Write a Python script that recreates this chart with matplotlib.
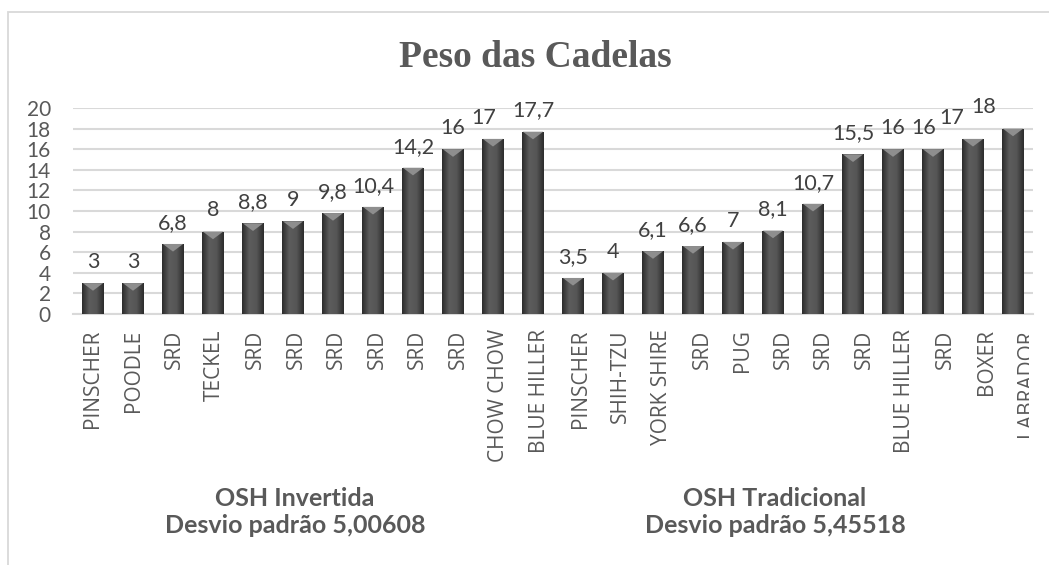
import matplotlib

matplotlib.use("Agg")

import matplotlib.pyplot as plt
import numpy as np
from matplotlib.colors import LinearSegmentedColormap
from matplotlib.patches import Rectangle
from matplotlib.path import Path
from matplotlib.transforms import ScaledTranslation


breeds = [
    "PINSCHER", "POODLE", "SRD", "TECKEL", "SRD", "SRD", "SRD", "SRD", "SRD", "SRD",
    "CHOW CHOW", "BLUE HILLER",
    "PINSCHER", "SHIH-TZU", "YORK SHIRE", "SRD", "PUG", "SRD", "SRD", "SRD",
    "BLUE HILLER", "SRD", "BOXER", "LABRADOR",
]
weights = [3, 3, 6.8, 8, 8.8, 9, 9.8, 10.4, 14.2, 16, 17, 17.7,
           3.5, 4, 6.1, 6.6, 7, 8.1, 10.7, 15.5, 16, 16, 17, 18]
groups = ["OSH Invertida\nDesvio padrão 5,00608", "OSH Tradicional\nDesvio padrão 5,45518"]
group_sizes = [12, 12]
y_ticks = list(range(0, 21, 2))

TEXT = "#595959"
GRID = "#d9d9d9"

W, H = 1049, 565
fig = plt.figure(figsize=(W / 100, H / 100), dpi=100)
fig.patch.set_facecolor("white")

# chart frame: only top and left edges show in the reference
fig.add_artist(Rectangle((8 / W, -0.1), 1.2, (H - 12) / H + 0.1, transform=fig.transFigure,
                         fill=False, edgecolor=GRID, lw=1.3))

ax = fig.add_axes([73 / W, 1 - 314 / H, 960 / W, 206 / H])
x = np.arange(len(weights))
bars = ax.bar(x, weights, width=0.53, color="#4a4a4a", zorder=2)

# horizontal shading across each bar
shade = LinearSegmentedColormap.from_list("shade", ["#2c2c2c", "#5c5c5c", "#565656", "#2c2c2c"])
grad = np.linspace(0, 1, 64).reshape(1, -1)
for b in bars:
    im = ax.imshow(grad, extent=[b.get_x(), b.get_x() + b.get_width(), 0, b.get_height()],
                   aspect="auto", cmap=shade, zorder=3)
    im.set_clip_path(b)

# bevelled top: flat triangle hanging from the top edge
bevel = Path([(-1, 0), (1, 0), (0, -0.75), (-1, 0)],
             [Path.MOVETO, Path.LINETO, Path.LINETO, Path.CLOSEPOLY])
ax.scatter(x, weights, marker=bevel, s=215, color="#8e8e8e", edgecolors="none", zorder=4)

# Excel pushed a few labels sideways to avoid collisions
nudge = {10: -7, 21: -7, 22: -15, 23: -21}
for xi, v in zip(x, weights):
    ax.annotate(f"{v:g}".replace(".", ","), (xi, v), xytext=(nudge.get(xi, 0), 8),
                textcoords="offset points", ha="center", va="bottom", fontsize=15.5,
                color="#404040", family="Lato")

ax.set_xlim(-0.5, len(weights) - 0.5)
ax.set_ylim(0, 20)
ax.set_yticks(y_ticks)
ax.set_yticklabels([str(t) for t in y_ticks], fontsize=15, color=TEXT, family="Lato")
ax.set_xticks(x)
ax.set_xticklabels(breeds, rotation=90, fontsize=15, color=TEXT, family="Open Sans")
ax.tick_params(length=0)
ax.tick_params(axis="x", pad=11)
ax.tick_params(axis="y", pad=16)
ax.grid(axis="y", color=GRID, lw=1.5, zorder=0)
ax.set_axisbelow(True)
for s in ["top", "right", "left"]:
    ax.spines[s].set_visible(False)
ax.spines["bottom"].set_color(GRID)
ax.spines["bottom"].set_linewidth(1.5)

# category labels drift slightly right across the axis in the original
for i, lab in enumerate(ax.get_xticklabels()):
    lab.set_transform(lab.get_transform() + ScaledTranslation(0.006 * i, 0, fig.dpi_scale_trans))

start = 0
for name, n in zip(groups, group_sizes):
    cx = start + (n - 1) / 2 - 0.45
    ax.text(cx, -(487 - 314) / 206, name, transform=ax.get_xaxis_transform(), ha="center",
            va="top", fontsize=18, fontweight="bold", color=TEXT, family="Lato", linespacing=1.2)
    start += n

# the last category label is cut off on its right side
fig.add_artist(Rectangle((1029 / W, 1 - 470 / H), 20 / W, 140 / H, transform=fig.transFigure,
                         facecolor="white", edgecolor="none", zorder=5))

fig.text(535 / W, 1 - 67 / H, "Peso das Cadelas", ha="center", va="baseline",
         fontsize=27, fontweight="bold", color=TEXT, family="Liberation Serif")

fig.savefig("out.png", dpi=100)
